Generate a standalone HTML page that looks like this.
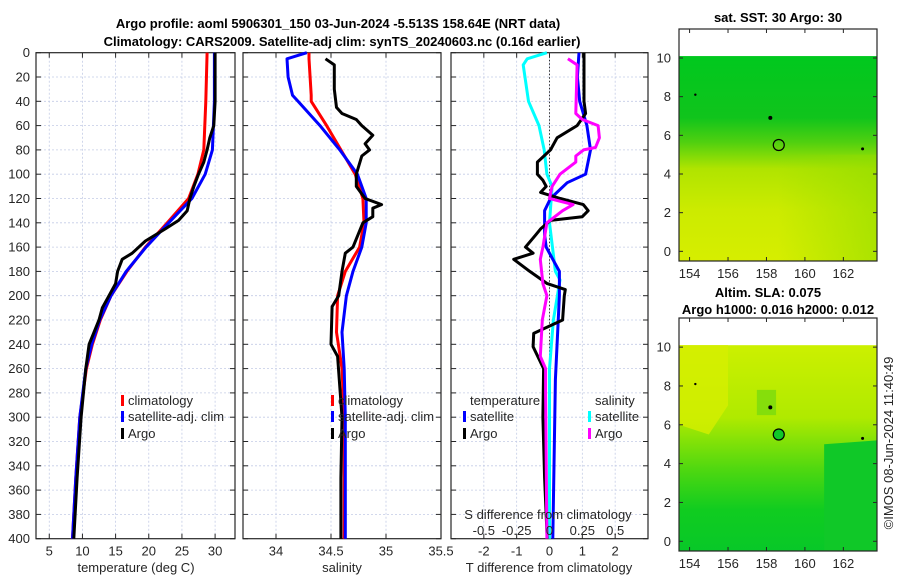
<!DOCTYPE html>
<html><head><meta charset="utf-8"><style>
body{margin:0;background:#fff;}
svg{display:block;font-family:"Liberation Sans","DejaVu Sans",sans-serif;}
</style></head><body>
<svg id="c" width="900" height="580" viewBox="0 0 900 580" xmlns="http://www.w3.org/2000/svg">
<defs>
<linearGradient id="sstV" x1="0" y1="0" x2="0" y2="1">
<stop offset="0" stop-color="#00c81e"/><stop offset="0.3" stop-color="#10c41c"/><stop offset="0.42" stop-color="#50d010"/><stop offset="0.55" stop-color="#b0e400"/><stop offset="0.75" stop-color="#cceb00"/><stop offset="1" stop-color="#d6ee00"/>
</linearGradient>
<linearGradient id="sstH" x1="0" y1="0" x2="1" y2="0">
<stop offset="0.5" stop-color="#90dc00" stop-opacity="0"/><stop offset="1" stop-color="#90dc00" stop-opacity="0.6"/>
</linearGradient>
<linearGradient id="slaV" x1="0" y1="0" x2="0" y2="1">
<stop offset="0" stop-color="#ccf000"/><stop offset="0.35" stop-color="#b0ea00"/><stop offset="0.6" stop-color="#50d810"/><stop offset="0.8" stop-color="#10cc20"/><stop offset="1" stop-color="#08c828"/>
</linearGradient>
</defs>
<g id="g"></g>
</svg>
<script>
// ---- data ----
const depthArgoT=[0,20,40,60,70,80,90,100,110,120,130,138,145,155,165,170,180,190,200,210,220,240,260,300,350,400];
const tempArgo=[30.0,30.0,30.0,29.8,29.2,28.8,28.3,27.5,26.8,26.2,25.8,24.5,22.5,19.5,17.5,16.0,15.3,15.0,14.0,13.0,12.5,11.0,10.5,9.8,9.2,8.7];
const depthClim=[0,40,80,100,120,140,160,180,200,220,240,260,300,350,400];
const tempClim=[28.8,28.6,28.3,27.4,26.0,22.8,19.5,16.7,14.3,12.7,11.5,10.6,9.6,9.0,8.5];
const tempSat=[29.9,29.9,29.6,28.5,26.5,23.0,19.6,16.6,14.3,12.6,11.4,10.5,9.6,9.0,8.5];
const depthSA=[5,10,30,45,50,55,60,68,75,80,85,100,110,120,125,128,135,140,160,165,180,200,209,240,250,300,350,400];
const salArgo=[34.45,34.53,34.53,34.55,34.6,34.73,34.78,34.88,34.81,34.85,34.78,34.73,34.73,34.81,34.96,34.88,34.88,34.79,34.7,34.63,34.6,34.57,34.51,34.5,34.56,34.6,34.59,34.59];
const depthSC=[0,5,20,35,40,60,80,100,120,140,160,180,200,230,260,300,400];
const salClim=[34.3,34.3,34.31,34.32,34.32,34.46,34.59,34.72,34.79,34.8,34.76,34.63,34.56,34.55,34.6,34.62,34.62];
const salSat=[34.28,34.1,34.11,34.15,34.2,34.4,34.58,34.74,34.82,34.82,34.78,34.7,34.64,34.6,34.62,34.63,34.63];
const depthDT=[0,20,40,50,60,70,80,90,100,105,110,115,120,125,130,135,138,145,150,160,165,170,180,190,195,200,220,231,242,260,300,350,400];
const dTArgo=[1.05,1.05,1.05,1.1,0.84,0.23,0.03,-0.37,-0.37,-0.2,-0.1,-0.27,0.33,1.03,1.18,1.0,0.03,-0.27,-0.42,-0.73,-0.5,-1.09,-0.6,-0.07,0.48,0.45,0.4,-0.48,-0.5,-0.18,-0.2,-0.15,-0.07];
const depthDTS=[0,20,40,60,80,100,107,120,130,150,160,170,180,200,269,400];
const dTSat=[0.9,0.85,0.92,1.14,1.25,1.1,0.54,0.03,-0.15,-0.15,-0.1,0.1,0.3,0.3,0.18,0.1];
const depthDS=[0,5,10,40,60,80,100,110,140,180,187,220,260,400];
const dSSat=[-0.02,-0.17,-0.2,-0.16,-0.08,-0.04,-0.02,0.02,0.0,0.045,0.08,0.03,0.0,0.0];
const depthDSA=[5,10,50,55,60,70,78,80,85,90,100,110,120,125,130,140,160,170,190,200,220,250,260,280,400];
const dSArgo=[0.14,0.21,0.2,0.25,0.37,0.38,0.35,0.26,0.2,0.2,0.08,0.02,0.0,0.18,0.1,-0.02,-0.05,-0.07,-0.05,-0.02,-0.055,-0.07,-0.03,-0.03,-0.02];
const depthTicks=[0,20,40,60,80,100,120,140,160,180,200,220,240,260,280,300,320,340,360,380,400];
const tTicks=[5,10,15,20,25,30];
const sTicks=[34,34.5,35];
const dTicks=[-2,-1,0,1,2];
const sdTickLabels=["-0.5","-0.25","0","0.25","0.5"];
const lonTicks=[154,156,158,160,162];
const latTicks=[0,2,4,6,8,10];

const NS="http://www.w3.org/2000/svg";
const G=document.getElementById('g');
function mk(tag,at,parent){const e=document.createElementNS(NS,tag);for(const k in at)e.setAttribute(k,at[k]);(parent||G).appendChild(e);return e;}
function txt(s,x,y,at){const e=mk('text',Object.assign({x:x,y:y,'font-size':13,fill:'#262626'},at||{}));e.textContent=s;return e;}
const Y0=52.7,YS=1.215;
const yD=d=>Y0+d*YS;
const panels=[
 {name:'temperature',x0:36,x1:235,v0:3,v1:33,ticks:tTicks},
 {name:'salinity',x0:243,x1:441,v0:33.7,v1:35.5,ticks:sTicks},
 {name:'difference',x0:451,x1:648,v0:-3,v1:3,ticks:dTicks}];
panels.forEach(p=>{p.f=v=>p.x0+(v-p.v0)/(p.v1-p.v0)*(p.x1-p.x0);});
const YB=yD(400);
panels.forEach((p,i)=>{
 const g=mk('g',{});
 
 
 mk('rect',{x:p.x0,y:Y0,width:p.x1-p.x0,height:YB-Y0,fill:'#fff'},g);
 depthTicks.forEach(d=>{
  if(d>0&&d<400){const l=mk('line',{x1:p.x0,x2:p.x1,y1:yD(d),y2:yD(d),stroke:'#c4cce6','stroke-width':0.8,'stroke-dasharray':'2,2'},g);
   }
  mk('line',{x1:p.x0,x2:p.x0+5,y1:yD(d),y2:yD(d),stroke:'#262626'},g);
  mk('line',{x1:p.x1-5,x2:p.x1,y1:yD(d),y2:yD(d),stroke:'#262626'},g);
  if(i===0){const t=txt(String(d),30,yD(d)+4.5,{'text-anchor':'end'},g);}
 });
 p.ticks.forEach(v=>{
  const x=p.f(v);
  const l=mk('line',{x1:x,x2:x,y1:Y0,y2:YB,stroke:'#c4cce6','stroke-width':0.8,'stroke-dasharray':'2,2'},g);
  
  mk('line',{x1:x,x2:x,y1:Y0,y2:Y0+5,stroke:'#262626'},g);
  mk('line',{x1:x,x2:x,y1:YB-5,y2:YB,stroke:'#262626'},g);
  const t=txt(String(v),x,YB+17,{'text-anchor':'middle'},g);
  
 });
 mk('rect',{x:p.x0,y:Y0,width:p.x1-p.x0,height:YB-Y0,fill:'none',stroke:'#262626','stroke-width':1.2},g);
});
txt("35.5",441,YB+17,{'text-anchor':'middle'});
// zero dotted line
mk('line',{x1:panels[2].f(0),x2:panels[2].f(0),y1:Y0,y2:YB,stroke:'#333','stroke-width':1,'stroke-dasharray':'1.5,2'});
function series(p,depths,vals,color,name,scale){
 const pts=depths.map((d,i)=>(p.f(vals[i]*(scale||1))).toFixed(1)+','+yD(d).toFixed(1)).join(' ');
 const e=mk('polyline',{points:pts,fill:'none',stroke:color,'stroke-width':3,'stroke-linejoin':'round'});
 
 
}
series(panels[0],depthClim,tempClim,'#ff0000','temp-climatology-line');
series(panels[0],depthClim,tempSat,'#0000ff','temp-satellite-line');
series(panels[0],depthArgoT,tempArgo,'#000','temp-argo-line');
series(panels[1],depthSC,salClim,'#ff0000','sal-climatology-line');
series(panels[1],depthSC,salSat,'#0000ff','sal-satellite-line');
series(panels[1],depthSA,salArgo,'#000','sal-argo-line');
series(panels[2],depthDS,dSSat,'#00ffff','sdiff-satellite-line',4);
series(panels[2],depthDTS,dTSat,'#0000ff','tdiff-satellite-line');
series(panels[2],depthDT,dTArgo,'#000','tdiff-argo-line');
series(panels[2],depthDSA,dSArgo,'#ff00ff','sdiff-argo-line',4);
// legends
function leg(x,y,color,label,name){
 const r=mk('rect',{x:x,y:y-10,width:3,height:11,fill:color});
 
 const t=txt(label,x+7,y);
}
leg(121,405,'#ff0000','climatology','legend-climatology');
leg(121,421,'#0000ff','satellite-adj. clim','legend-satellite-adj');
leg(121,438,'#000','Argo','legend-argo');
leg(331,405,'#ff0000','climatology','legend2-climatology');
leg(331,421,'#0000ff','satellite-adj. clim','legend2-satellite-adj');
leg(331,438,'#000','Argo','legend2-argo');
txt('temperature',470,405);
leg(463,421,'#0000ff','satellite','legend3-t-satellite');
leg(463,438,'#000','Argo','legend3-t-argo');
txt('salinity',595,405);
leg(588,421,'#00ffff','satellite','legend3-s-satellite');
leg(588,438,'#ff00ff','Argo','legend3-s-argo');
txt('S difference from climatology',548,519,{'text-anchor':'middle'});
sdTickLabels.forEach((s,i)=>{const t=txt(s,panels[2].f(dTicks[i]),535,{'text-anchor':'middle'});});
txt('temperature (deg C)',136,572,{'text-anchor':'middle'});
txt('salinity',342,572,{'text-anchor':'middle'});
txt('T difference from climatology',549,572,{'text-anchor':'middle'});
txt('Argo profile: aoml 5906301_150 03-Jun-2024 -5.513S 158.64E (NRT data)',338,28,{'text-anchor':'middle','font-weight':'bold','fill':'#000'});
txt('Climatology: CARS2009. Satellite-adj clim: synTS_20240603.nc (0.16d earlier)',342,46,{'text-anchor':'middle','font-weight':'bold','fill':'#000'});
// maps
const maps=[{y0:29,y1:261,fill:'sstV',name:'sst-map'},{y0:318,y1:551,fill:'slaV',name:'sla-map'}];
maps.forEach((m,k)=>{
 const X0=679,X1=877;
 const lx=v=>X0+(v-153.45)/(163.75-153.45)*(X1-X0);
 const ly=v=>m.y1-(v+0.5)/12*(m.y1-m.y0);
 const g=mk('g',{});
 
 mk('rect',{x:X0,y:m.y0,width:X1-X0,height:m.y1-m.y0,fill:'#fff'},g);
 mk('rect',{x:X0,y:ly(10.1),width:X1-X0,height:m.y1-ly(10.1),fill:'url(#'+m.fill+')'},g);
 if(k===0){mk('rect',{x:X0,y:ly(5),width:X1-X0,height:m.y1-ly(5),fill:'url(#sstH)'},g);}
 else{
  mk('polygon',{points:[lx(153.45),ly(10.1),lx(156),ly(10.1),lx(156),ly(7),lx(155),ly(5.5),lx(153.45),ly(6)].join(','),fill:'#d6ef00',opacity:0.8},g);
  mk('polygon',{points:[lx(161),ly(5),lx(163.75),ly(5.2),lx(163.75),ly(-0.5),lx(161),ly(-0.5)].join(','),fill:'#10c828'},g);
  mk('polygon',{points:[lx(157.5),ly(7.8),lx(158.5),ly(7.8),lx(158.5),ly(6.5),lx(157.5),ly(6.5)].join(','),fill:'#70d810',opacity:0.7},g);
 }
 lonTicks.forEach(v=>{mk('line',{x1:lx(v),x2:lx(v),y1:m.y1,y2:m.y1-4,stroke:'#262626'},g);mk('line',{x1:lx(v),x2:lx(v),y1:m.y0,y2:m.y0+4,stroke:'#262626'},g);
  const t=txt(String(v),lx(v),m.y1+17,{'text-anchor':'middle'},g);});
 latTicks.forEach(v=>{mk('line',{x1:X0,x2:X0+4,y1:ly(v),y2:ly(v),stroke:'#262626'},g);mk('line',{x1:X1,x2:X1-4,y1:ly(v),y2:ly(v),stroke:'#262626'},g);
  const t=txt(String(v),671,ly(v)+4.5,{'text-anchor':'end'},g);});
 mk('circle',{cx:lx(158.64),cy:ly(5.5),r:5.5,fill:k?'#10c828':'none',stroke:'#000','stroke-width':1.2},g);
 mk('circle',{cx:lx(158.2),cy:ly(6.9),r:2,fill:'#000'},g);
 mk('circle',{cx:lx(154.3),cy:ly(8.1),r:1.2,fill:'#000'},g);
 mk('circle',{cx:lx(163),cy:ly(5.3),r:1.5,fill:'#000'},g);
 mk('rect',{x:X0,y:m.y0,width:X1-X0,height:m.y1-m.y0,fill:'none',stroke:'#262626','stroke-width':1.2},g);
});
txt('sat. SST: 30 Argo: 30',778,22,{'text-anchor':'middle','font-weight':'bold','fill':'#000'});
txt('Altim. SLA: 0.075',768,297,{'text-anchor':'middle','font-weight':'bold','fill':'#000'});
txt('Argo h1000: 0.016 h2000: 0.012',778,314,{'text-anchor':'middle','font-weight':'bold','fill':'#000'});
const im=txt('\u00a9IMOS 08-Jun-2024 11:40:49',0,0,{'text-anchor':'middle',transform:'translate(893,443) rotate(-90)'});

</script>
</body></html>
